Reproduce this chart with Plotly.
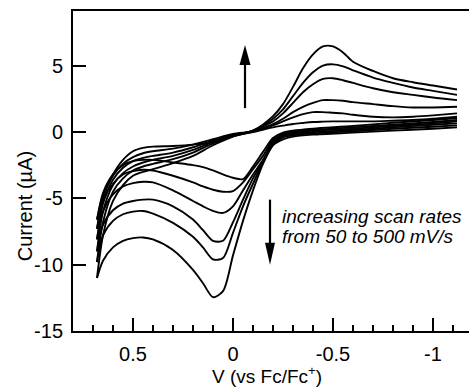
import plotly.graph_objects as go

# Cyclic voltammograms at increasing scan rates (mV/s)
SCAN_RATES = [50, 100, 200, 300, 400, 500]

# Potential grid (V vs Fc/Fc+) for the upper branch (traced from -1.12 V to +0.68 V)
E_UPPER = [-1.12, -1.0, -0.9, -0.8, -0.7, -0.6, -0.55, -0.5, -0.45, -0.4, -0.35,
           -0.3, -0.25, -0.2, -0.1, 0.0, 0.1, 0.2, 0.3, 0.4, 0.45, 0.5, 0.55,
           0.6, 0.65, 0.68]

# Potential grid for the lower branch (traced from +0.68 V back to -1.12 V)
E_LOWER = [0.68, 0.65, 0.6, 0.55, 0.5, 0.45, 0.4, 0.3, 0.2, 0.15, 0.1, 0.05,
           0.0, -0.05, -0.1, -0.15, -0.2, -0.25, -0.3, -0.4, -0.6, -0.8, -1.0,
           -1.12]

# Current (uA), upper branch, one list per scan rate
I_UPPER_50 = [1.15, 1.0, 0.9, 0.85, 0.8, 0.8, 0.8, 0.8, 0.78, 0.75, 0.68, 0.6,
              0.48, 0.35, 0.0, -0.3, -0.75, -0.95, -1.05, -1.1, -1.2, -1.45,
              -2.1, -3.2, -4.8, -6.6]
I_UPPER_100 = [1.4, 1.25, 1.15, 1.1, 1.15, 1.3, 1.4, 1.45, 1.5, 1.5, 1.35, 1.1,
               0.8, 0.5, 0.05, -0.15, -0.55, -0.95, -1.25, -1.45, -1.6, -1.9,
               -2.4, -3.3, -5.0, -7.3]
I_UPPER_200 = [1.9, 1.85, 1.85, 1.95, 2.1, 2.25, 2.35, 2.4, 2.4, 2.2, 1.9, 1.5,
               1.0, 0.6, 0.05, -0.2, -0.65, -1.15, -1.55, -1.8, -1.95, -2.2,
               -2.7, -3.6, -5.4, -8.1]
I_UPPER_300 = [2.4, 2.6, 2.8, 3.0, 3.3, 3.7, 3.9, 4.05, 4.0, 3.6, 3.0, 2.2, 1.4,
               0.8, 0.1, -0.25, -0.75, -1.35, -1.8, -2.1, -2.3, -2.6, -3.1,
               -4.0, -6.0, -9.0]
I_UPPER_400 = [2.8, 3.1, 3.35, 3.7, 4.1, 4.65, 4.95, 5.1, 5.0, 4.5, 3.7, 2.7,
               1.7, 1.0, 0.1, -0.3, -0.85, -1.55, -2.05, -2.4, -2.6, -2.9, -3.5,
               -4.5, -6.8, -9.8]
I_UPPER_500 = [3.2, 3.5, 3.75, 4.05, 4.6, 5.3, 6.0, 6.45, 6.45, 5.85, 4.8, 3.4,
               2.1, 1.2, 0.1, -0.35, -1.0, -1.8, -2.35, -2.8, -3.0, -3.3, -4.0,
               -5.2, -7.8, -11.0]

# Current (uA), lower branch, one list per scan rate
I_LOWER_50 = [-6.6, -4.6, -3.2, -2.5, -2.2, -2.1, -2.1, -2.3, -2.5, -2.65, -2.9,
              -3.2, -3.45, -3.55, -2.6, -1.5, -0.45, -0.05, 0.1, 0.25, 0.45,
              0.7, 0.9, 1.05]
I_LOWER_100 = [-7.3, -5.2, -3.9, -3.2, -2.95, -2.85, -2.9, -3.3, -3.8, -4.1,
               -4.35, -4.5, -4.45, -3.8, -2.8, -1.8, -0.6, -0.15, 0.0, 0.15,
               0.35, 0.55, 0.75, 0.9]
I_LOWER_200 = [-8.1, -6.0, -4.7, -4.1, -3.85, -3.75, -3.8, -4.4, -5.2, -5.6,
               -5.95, -6.1, -5.6, -4.4, -3.2, -2.1, -0.75, -0.2, -0.05, 0.1,
               0.25, 0.45, 0.65, 0.8]
I_LOWER_300 = [-9.0, -7.0, -5.9, -5.4, -5.2, -5.1, -5.1, -5.6, -6.6, -7.4, -8.2,
               -8.2, -6.8, -5.1, -3.5, -2.2, -0.85, -0.3, -0.15, 0.0, 0.15,
               0.35, 0.55, 0.65]
I_LOWER_400 = [-9.8, -7.8, -6.7, -6.2, -6.0, -5.95, -6.15, -6.85, -7.9, -8.7,
               -9.6, -9.5, -7.6, -5.6, -3.9, -2.3, -0.95, -0.4, -0.25, -0.1,
               0.05, 0.25, 0.4, 0.5]
I_LOWER_500 = [-11.0, -9.7, -8.7, -8.2, -8.0, -7.95, -8.1, -8.9, -10.4, -11.4,
               -12.45, -12.0, -9.3, -6.7, -4.4, -2.4, -1.0, -0.55, -0.35, -0.2,
               -0.05, 0.1, 0.25, 0.35]

I_UPPER = [I_UPPER_50, I_UPPER_100, I_UPPER_200, I_UPPER_300, I_UPPER_400, I_UPPER_500]
I_LOWER = [I_LOWER_50, I_LOWER_100, I_LOWER_200, I_LOWER_300, I_LOWER_400, I_LOWER_500]

X_TICKS = [0.5, 0, -0.5, -1]
X_TICK_TEXT = ["0.5", "0", "-0.5", "-1"]
Y_TICKS = [5, 0, -5, -10, -15]
Y_TICK_TEXT = ["5", "0", "-5", "-10", "-15"]

FONT = "Liberation Sans, Arial, Helvetica, sans-serif"
INK = "black"

fig = go.Figure()

for rate, up, lo in zip(SCAN_RATES, I_UPPER, I_LOWER):
    for xs, ys in ((E_UPPER, up), (E_LOWER, lo)):
        fig.add_trace(go.Scatter(
            x=xs, y=ys, mode="lines", name=f"{rate} mV/s",
            line=dict(color=INK, width=1.9, shape="spline", smoothing=0.8),
            showlegend=False, hoverinfo="skip",
        ))

# Arrow pointing up (anodic peaks grow with scan rate)
fig.add_shape(type="line", xref="x", yref="y", x0=-0.06, x1=-0.06, y0=1.8, y1=5.6,
              line=dict(color=INK, width=2.2))
fig.add_shape(type="path", xref="x", yref="y", xsizemode="pixel", ysizemode="pixel",
              xanchor=-0.06, yanchor=6.56, path="M0,0 L-5.5,-20 L5.5,-20 Z",
              fillcolor=INK, line=dict(width=0))

# Arrow pointing down (cathodic peaks grow with scan rate)
fig.add_shape(type="line", xref="x", yref="y", x0=-0.185, x1=-0.185, y0=-5.1, y1=-9.0,
              line=dict(color=INK, width=2.2))
fig.add_shape(type="path", xref="x", yref="y", xsizemode="pixel", ysizemode="pixel",
              xanchor=-0.185, yanchor=-10.0, path="M0,0 L-5,22 L5,22 Z",
              fillcolor=INK, line=dict(width=0))

fig.add_annotation(x=-0.235, y=-6.4, xref="x", yref="y", xanchor="left", yanchor="middle",
                   text="<i>increasing scan rates</i>", showarrow=False,
                   font=dict(family=FONT, size=19, color=INK))
fig.add_annotation(x=-0.235, y=-7.85, xref="x", yref="y", xanchor="left", yanchor="middle",
                   text="<i>from 50 to 500 mV/s</i>", showarrow=False,
                   font=dict(family=FONT, size=19, color=INK))

# Axis titles
fig.add_annotation(x=0.49, y=-0.182, xref="paper", yref="paper", xanchor="center",
                   yanchor="bottom", text="V (vs Fc/Fc<sup>+</sup>)", showarrow=False,
                   font=dict(family=FONT, size=19, color=INK))
fig.add_annotation(x=-0.121, y=0.39, xref="paper", yref="paper", xanchor="center",
                   yanchor="middle", text="Current (µA)", textangle=-90, showarrow=False,
                   font=dict(family=FONT, size=20, color=INK))

fig.update_layout(
    width=469, height=390,
    margin=dict(l=73, r=0, t=11, b=59),
    paper_bgcolor="white", plot_bgcolor="white",
    font=dict(family=FONT, size=20, color=INK),
    xaxis=dict(
        range=[0.8, -1.18], tickmode="array", tickvals=X_TICKS, ticktext=X_TICK_TEXT,
        ticks="inside", ticklen=13, tickwidth=1.5, tickcolor=INK,
        showline=True, linewidth=2, linecolor=INK, mirror=True,
        showgrid=False, zeroline=False, ticklabelstandoff=4,
        minor=dict(tickmode="linear", tick0=0, dtick=0.1, ticks="inside",
                   ticklen=6, tickwidth=1.5, tickcolor=INK, showgrid=False),
    ),
    yaxis=dict(
        range=[-15, 9.12], tickmode="array", tickvals=Y_TICKS, ticktext=Y_TICK_TEXT,
        ticks="inside", ticklen=13, tickwidth=1.5, tickcolor=INK,
        showline=True, linewidth=2, linecolor=INK, mirror=False,
        showgrid=False, zeroline=False, ticklabelstandoff=4,
    ),
)

fig.write_html("out.html")
